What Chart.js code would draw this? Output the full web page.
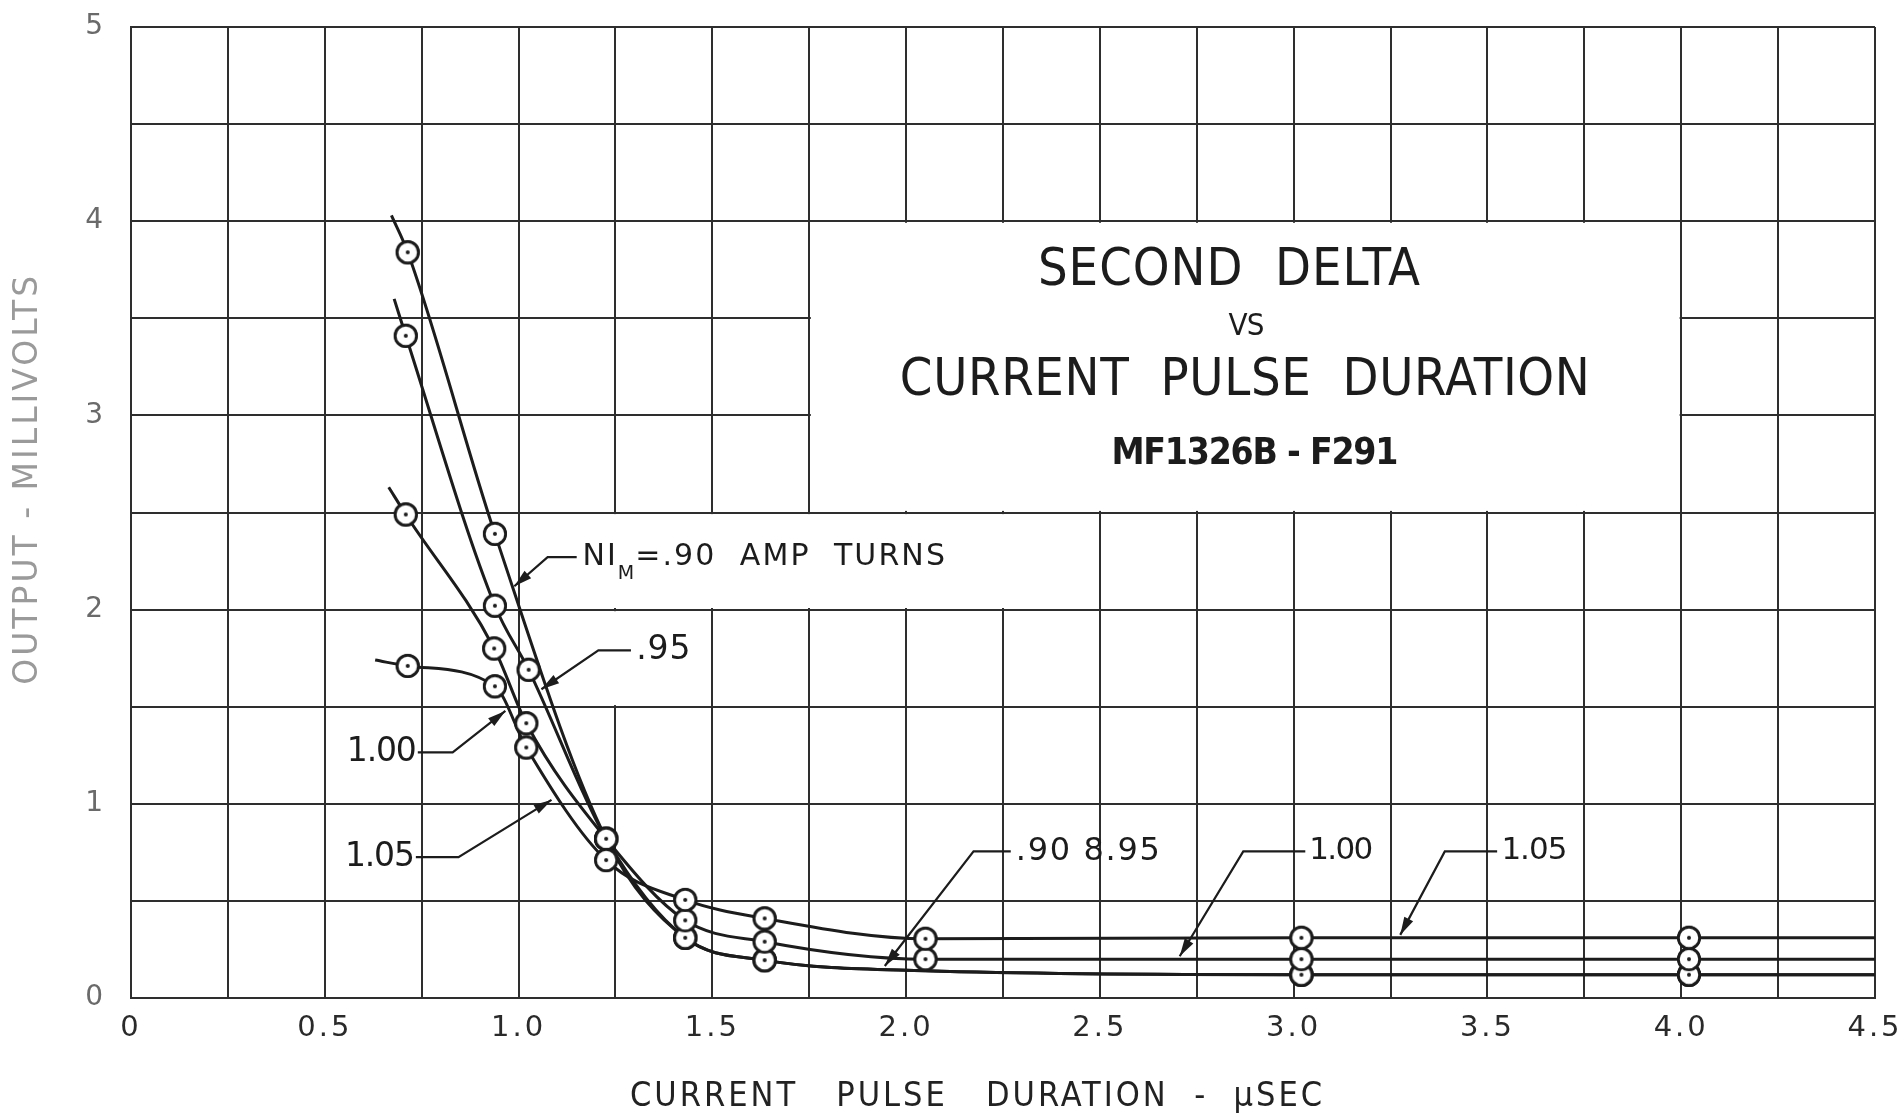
<!DOCTYPE html>
<html>
<head>
<meta charset="utf-8">
<script src="https://cdn.jsdelivr.net/npm/chart.js@4.4.1/dist/chart.umd.min.js"></script>
<style>
  html, body { margin: 0; padding: 0; background: #fff; }
  #wrap { width: 1904px; height: 1118px; position: relative; }
</style>
</head>
<body>
<div id="wrap"><canvas id="chart"></canvas></div>
<script>
// pulse duration (usec) / output (mV) for each NI_M curve; m = 1 where the sheet has a circle
const x090 = [0.672, 0.714, 0.939, 1.226, 1.43, 1.635, 2.05, 3.02, 4.02, 4.5];
const y090 = [4.03, 3.84, 2.39, 0.82, 0.31, 0.195, 0.14, 0.12, 0.12, 0.12];
const m090 = [0, 1, 1, 1, 1, 1, 0, 1, 1, 0];

const x095 = [0.679, 0.709, 0.939, 1.026, 1.226, 1.43, 1.635, 2.05, 3.02, 4.02, 4.5];
const y095 = [3.60, 3.41, 2.02, 1.69, 0.82, 0.31, 0.195, 0.14, 0.12, 0.12, 0.12];
const m095 = [0, 1, 1, 1, 1, 1, 1, 0, 1, 1, 0];

const x100 = [0.665, 0.709, 0.937, 1.02, 1.226, 1.43, 1.635, 2.05, 3.02, 4.02, 4.5];
const y100 = [2.63, 2.49, 1.80, 1.415, 0.82, 0.40, 0.29, 0.2, 0.2, 0.2, 0.2];
const m100 = [0, 1, 1, 1, 1, 1, 1, 1, 1, 1, 0];

const x105 = [0.63, 0.714, 0.939, 1.02, 1.226, 1.43, 1.635, 2.05, 3.02, 4.02, 4.5];
const y105 = [1.74, 1.71, 1.605, 1.29, 0.71, 0.505, 0.41, 0.305, 0.31, 0.31, 0.31];
const m105 = [0, 1, 1, 1, 1, 1, 1, 1, 1, 1, 0];

const xTickLabels = ['0', '0.5', '1.0', '1.5', '2.0', '2.5', '3.0', '3.5', '4.0', '4.5'];
const yTickLabels = ['0', '1', '2', '3', '4', '5'];

const INK = '#1c1c1c';
const GRID = '#2e2e2e';
const FONT_GEO = "'DejaVu Sans', 'Noto Sans', sans-serif";
const FONT_NARROW = "'Liberation Sans Narrow', 'DejaVu Sans Condensed', 'Liberation Sans', sans-serif";

function makeMarker() {
    const c = document.createElement('canvas');
    c.width = 28; c.height = 28;
    const g = c.getContext('2d');
    g.beginPath(); g.arc(14, 14, 10.6, 0, Math.PI * 2);
    g.fillStyle = '#fff'; g.fill();
    g.lineWidth = 2.7; g.strokeStyle = INK; g.stroke();
    g.beginPath(); g.arc(14, 14, 2, 0, Math.PI * 2);
    g.fillStyle = INK; g.fill();
    return c;
}
const marker = makeMarker();

function series(label, xs, ys, ms) {
    return {
        label: label,
        data: xs.map((x, i) => ({x: x, y: ys[i]})),
        borderColor: INK,
        borderWidth: 3,
        fill: false,
        cubicInterpolationMode: 'monotone',
        pointStyle: marker,
        pointRadius: ms.map(m => m ? 11 : 0),
        pointHoverRadius: 0
    };
}

// helpers for the lettering on the sheet
function putText(chart, text, xv, yv, size, width, align, family, weight) {
    const ctx = chart.ctx, sx = chart.scales.x, sy = chart.scales.y;
    ctx.save();
    ctx.font = (weight || 'normal') + ' ' + size + 'px ' + family;
    ctx.fillStyle = INK;
    ctx.textBaseline = 'middle';
    ctx.textAlign = 'left';
    const w0 = ctx.measureText(text).width;
    const sp = text.length > 1 ? (width - w0) / (text.length - 1) : 0;
    ctx.letterSpacing = sp.toFixed(2) + 'px';
    let x0 = sx.getPixelForValue(xv);
    if (align === 'center') x0 -= width / 2;
    ctx.fillText(text, x0, sy.getPixelForValue(yv));
    ctx.restore();
}

function clearCell(chart, x1, x2, y1, y2) {
    const ctx = chart.ctx, sx = chart.scales.x, sy = chart.scales.y;
    const l = sx.getPixelForValue(x1) + 1.6, r = sx.getPixelForValue(x2) - 1.6;
    const t = sy.getPixelForValue(y2) + 1.6, b = sy.getPixelForValue(y1) - 1.6;
    ctx.fillStyle = '#fff';
    ctx.fillRect(l, t, r - l, b - t);
}

function leader(chart, pts) {
    const ctx = chart.ctx, sx = chart.scales.x, sy = chart.scales.y;
    const p = pts.map(q => [sx.getPixelForValue(q[0]), sy.getPixelForValue(q[1])]);
    ctx.save();
    ctx.strokeStyle = INK; ctx.fillStyle = INK; ctx.lineWidth = 2.2;
    ctx.beginPath();
    ctx.moveTo(p[0][0], p[0][1]);
    for (let i = 1; i < p.length; i++) ctx.lineTo(p[i][0], p[i][1]);
    ctx.stroke();
    const a = p[p.length - 2], b = p[p.length - 1];
    const ang = Math.atan2(b[1] - a[1], b[0] - a[0]);
    const L = 18, W = 5;
    ctx.beginPath();
    ctx.moveTo(b[0], b[1]);
    ctx.lineTo(b[0] - L * Math.cos(ang) + W * Math.sin(ang), b[1] - L * Math.sin(ang) - W * Math.cos(ang));
    ctx.lineTo(b[0] - L * Math.cos(ang) - W * Math.sin(ang), b[1] - L * Math.sin(ang) + W * Math.cos(ang));
    ctx.closePath();
    ctx.fill();
    ctx.restore();
}

const sheet = {
    id: 'sheet',
    beforeDraw(chart) {
        chart.ctx.letterSpacing = '3px';
    },
    beforeDatasetsDraw(chart) {
        const ctx = chart.ctx;
        ctx.letterSpacing = '0px';
        ctx.save();
        clearCell(chart, 1.75, 4.0, 2.5, 4.0);
        clearCell(chart, 1.0, 2.5, 2.0, 2.5);
        clearCell(chart, 1.0, 1.5, 1.5, 2.0);
        ctx.restore();
    },
    afterDatasetsDraw(chart) {
        const ctx = chart.ctx;
        // circles sit on top of every curve
        chart.getSortedVisibleDatasetMetas().forEach(meta => {
            meta.data.forEach(pt => pt.draw(ctx, chart.chartArea));
        });

        // title block
        putText(chart, 'SECOND  DELTA', 2.833, 3.743, 52, 382, 'center', FONT_NARROW);
        putText(chart, 'VS', 2.878, 3.455, 31, 36, 'center', FONT_NARROW);
        putText(chart, 'CURRENT  PULSE  DURATION', 2.874, 3.177, 52, 690, 'center', FONT_NARROW);
        putText(chart, 'MF1326B - F291', 2.90, 2.80, 37, 287, 'center', FONT_NARROW, 'bold');

        // NI_M label with subscript
        const sx = chart.scales.x, sy = chart.scales.y;
        ctx.save();
        ctx.fillStyle = INK;
        ctx.textBaseline = 'middle';
        ctx.font = '30px ' + FONT_GEO;
        let cx = sx.getPixelForValue(1.165);
        const cy = sy.getPixelForValue(2.27);
        ctx.letterSpacing = '2px';
        ctx.fillText('NI', cx, cy);
        cx += ctx.measureText('NI').width;
        ctx.font = '19px ' + FONT_GEO;
        ctx.letterSpacing = '0px';
        ctx.fillText('M', cx, cy + 17);
        cx += ctx.measureText('M').width + 1;
        ctx.restore();
        const endX = sx.getPixelForValue(2.1);
        putText(chart, '=.90  AMP  TURNS', sx.getValueForPixel(cx), 2.27, 30, endX - cx, 'left', FONT_GEO);

        putText(chart, '.95', 1.304, 1.79, 33, 54, 'left', FONT_GEO);
        putText(chart, '1.00', 0.557, 1.265, 33, 70, 'left', FONT_GEO);
        putText(chart, '1.05', 0.552, 0.725, 33, 70, 'left', FONT_GEO);
        putText(chart, '.90 8.95', 2.283, 0.755, 32, 144, 'left', FONT_GEO);
        putText(chart, '1.00', 3.04, 0.755, 31, 64, 'left', FONT_GEO);
        putText(chart, '1.05', 3.536, 0.755, 31, 66, 'left', FONT_GEO);

        leader(chart, [[1.15, 2.27], [1.075, 2.27], [0.989, 2.12]]);
        leader(chart, [[1.29, 1.79], [1.206, 1.79], [1.059, 1.59]]);
        leader(chart, [[0.74, 1.265], [0.83, 1.265], [0.966, 1.478]]);
        leader(chart, [[0.735, 0.725], [0.845, 0.725], [1.085, 1.02]]);
        leader(chart, [[2.27, 0.755], [2.174, 0.755], [1.945, 0.165]]);
        leader(chart, [[3.03, 0.755], [2.87, 0.755], [2.706, 0.215]]);
        leader(chart, [[3.525, 0.755], [3.39, 0.755], [3.275, 0.325]]);
    }
};

const chartCanvas = document.querySelector('#chart');

new Chart(chartCanvas, {
    type: 'line',
    data: {
        datasets: [
            series('.90', x090, y090, m090),
            series('.95', x095, y095, m095),
            series('1.00', x100, y100, m100),
            series('1.05', x105, y105, m105)
        ]
    },
    options: {
        responsive: true,
        maintainAspectRatio: false,
        animation: false,
        devicePixelRatio: 1,
        layout: { padding: { top: 27, right: 29, bottom: 0, left: 0 } },
        plugins: {
            legend: { display: false },
            tooltip: { enabled: false }
        },
        scales: {
            x: {
                type: 'linear',
                min: 0,
                max: 4.5,
                afterFit: s => {
                    s.height = 120;
                    s.paddingLeft = 0; s.paddingRight = 0;
                },
                grid: { color: GRID, lineWidth: 2, drawTicks: false },
                border: { color: GRID, width: 2 },
                ticks: {
                    stepSize: 0.25,
                    autoSkip: false,
                    maxRotation: 0,
                    padding: 13,
                    color: '#2a2a2a',
                    font: { family: FONT_GEO, size: 29 },
                    callback: v => {
                        const k = Math.round(v * 2);
                        return Math.abs(v * 2 - k) < 1e-6 ? xTickLabels[k] : '';
                    }
                },
                title: {
                    display: true,
                    text: 'CURRENT   PULSE   DURATION  -  \u03bcSEC    ',
                    color: '#222',
                    font: { family: FONT_NARROW, size: 34 },
                    padding: { top: 0, bottom: 0 }
                }
            },
            y: {
                type: 'linear',
                min: 0,
                max: 5,
                afterFit: s => {
                    s.width = 131;
                    s.paddingTop = 0; s.paddingBottom = 0;
                },
                grid: { color: GRID, lineWidth: 2, drawTicks: false },
                border: { color: GRID, width: 2 },
                ticks: {
                    stepSize: 0.5,
                    padding: 25,
                    color: '#6a6a6a',
                    font: { family: FONT_GEO, size: 28 },
                    callback: v => Number.isInteger(v) ? yTickLabels[v] : ''
                },
                title: {
                    display: true,
                    text: '     OUTPUT - MILLIVOLTS',
                    color: '#9a9a9a',
                    font: { family: FONT_GEO, size: 33 },
                    padding: { top: 9, bottom: 0 }
                }
            }
        }
    },
    plugins: [sheet]
});
</script>
</body>
</html>
